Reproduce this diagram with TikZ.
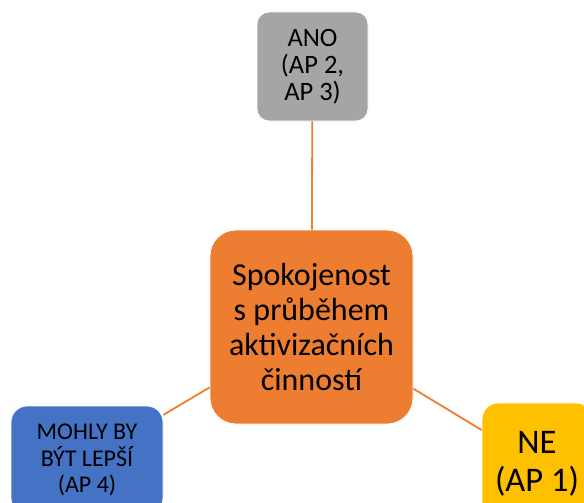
\documentclass[tikz,border=0pt]{standalone}
\usepackage{fontspec}
\setmainfont{Carlito}
\definecolor{cgray}{HTML}{A5A5A5}
\definecolor{corange}{HTML}{ED7D31}
\definecolor{cblue}{HTML}{4472C4}
\definecolor{cyellow}{HTML}{FFC000}
\begin{document}
\begin{tikzpicture}[x=1pt,y=-1pt,
  box/.style={rectangle,draw=white,line width=0.8pt,align=center,text=black,inner sep=0pt},
  link/.style={draw=corange,line width=1.8pt}]
\useasboundingbox (0,0) rectangle (584,503);
\clip (0,0) rectangle (584,503);
\node[box,fill=cgray,minimum width=111pt,minimum height=109pt,rounded corners=12pt,
  font=\fontsize{26.5}{27}\selectfont] (ano) at (312.5,66.5) {ANO\\(AP 2,\\AP 3)};
\node[box,fill=corange,minimum width=203pt,minimum height=194pt,rounded corners=26pt,
  font=\fontsize{32}{35}\selectfont] (mid) at (311.5,327) {Spokojenost\\s průběhem\\aktivizačních\\činností};
\node[box,fill=cblue,minimum width=152pt,minimum height=108pt,rounded corners=16pt,
  font=\fontsize{24}{26.5}\selectfont] (blue) at (87,460) {MOHLY BY\\BÝT LEPŠÍ\\(AP 4)};
\node[box,fill=cyellow,minimum width=110pt,minimum height=121pt,rounded corners=16pt,
  font=\fontsize{34.5}{38}\selectfont] (ne) at (537,463.5) {NE\\(AP 1)};
\draw[link] (ano) -- (mid);
\draw[link] (mid) -- (blue);
\draw[link] (mid) -- (ne);
\end{tikzpicture}
\end{document}
